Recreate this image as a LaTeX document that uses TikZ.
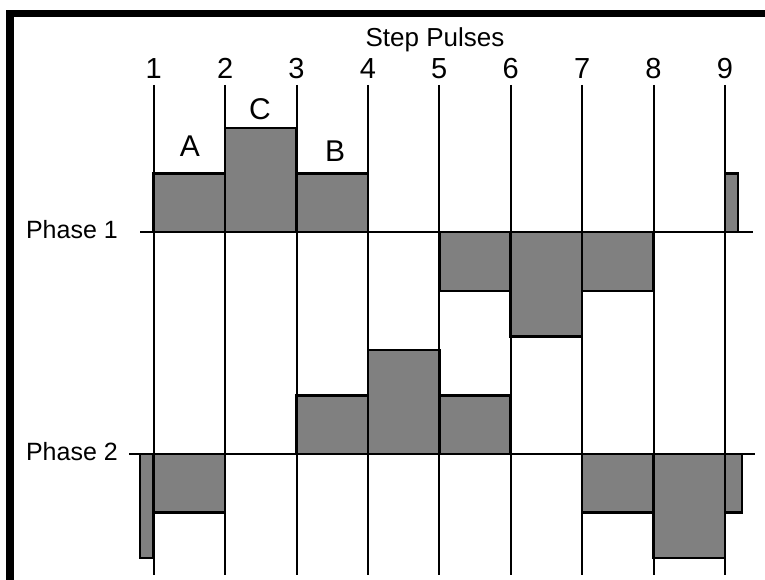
\documentclass[tikz,border=0pt]{standalone}
\usepackage{fontspec}
\setmainfont{Liberation Sans}
\usetikzlibrary{positioning}
\tikzset{
myPulse/.style={draw=black, line width=2pt}
, myAxis/.style={draw=black, line width=2pt}
, myBlock/.style={draw=black, fill=gray, line width=2.6pt}
, myNum/.style={font=\fontsize{29}{33}\selectfont, inner sep=0pt, anchor=base}
, myLetter/.style={font=\fontsize{30}{34}\selectfont, inner sep=0pt, anchor=base}
, myPhase/.style={font=\fontsize{25}{29}\selectfont, inner sep=0pt, anchor=base east}
}
\begin{document}
\begin{tikzpicture}[x=1pt,y=-1pt]
	\useasboundingbox (0,0) rectangle (765,580);
	% frame
	\fill (6,10) rectangle (765,17);
	\fill (6,10) rectangle (14,580);
	% title
	\node[myNum, font=\fontsize{26}{30}\selectfont] (Title) at (435,47) {Step Pulses};
	% levels
	\coordinate (OneUpB) at (0,128);
	\coordinate (OneUpA) at (0,173.5);
	\coordinate (OneAxis) at (0,232);
	\coordinate (OneDnA) at (0,291);
	\coordinate (OneDnB) at (0,336.5);
	\coordinate (TwoUpB) at (0,350);
	\coordinate (TwoUpA) at (0,395.5);
	\coordinate (TwoAxis) at (0,454);
	\coordinate (TwoDnA) at (0,512.5);
	\coordinate (TwoDnB) at (0,558);
	% pulses
	\foreach \i in {1,...,9}{
		\node[myNum] (N\i) at ({153.7+(\i-1)*71.4},78.5) {\i};
		\coordinate (T\i) at ({153.7+(\i-1)*71.4},85);
		\coordinate (B\i) at ({153.7+(\i-1)*71.4},575);
	}
	% phase 1
	\draw[myBlock] (T1 |- OneUpA) rectangle (T2 |- OneAxis);
	\draw[myBlock] (T2 |- OneUpB) rectangle (T3 |- OneAxis);
	\draw[myBlock] (T3 |- OneUpA) rectangle (T4 |- OneAxis);
	\draw[myBlock] (T5 |- OneAxis) rectangle (T6 |- OneDnA);
	\draw[myBlock] (T6 |- OneAxis) rectangle (T7 |- OneDnB);
	\draw[myBlock] (T7 |- OneAxis) rectangle (T8 |- OneDnA);
	\draw[myBlock] (T9 |- OneUpA) rectangle (738,232);
	% phase 2
	\draw[myBlock] (140,454) rectangle (T1 |- TwoDnB);
	\draw[myBlock] (T1 |- TwoAxis) rectangle (T2 |- TwoDnA);
	\draw[myBlock] (T3 |- TwoUpA) rectangle (T4 |- TwoAxis);
	\draw[myBlock] (T4 |- TwoUpB) rectangle (T5 |- TwoAxis);
	\draw[myBlock] (T5 |- TwoUpA) rectangle (T6 |- TwoAxis);
	\draw[myBlock] (T7 |- TwoAxis) rectangle (T8 |- TwoDnA);
	\draw[myBlock] (T8 |- TwoAxis) rectangle (T9 |- TwoDnB);
	\draw[myBlock] (T9 |- TwoAxis) rectangle (742,512.5);
	% axes
	\coordinate (OneStart) at (140,232);
	\coordinate (OneEnd) at (753,232);
	\coordinate (TwoStart) at (129,454);
	\coordinate (TwoEnd) at (755,454);
	\draw[myAxis] (OneStart) -- (OneEnd);
	\draw[myAxis] (TwoStart) -- (TwoEnd);
	\foreach \i in {1,...,9}{
		\draw[myPulse] (T\i) -- (B\i);
	}
	% labels
	\node[myPhase] (PhaseOne) at (118,238.5) {Phase 1};
	\node[myPhase] (PhaseTwo) at (118,460) {Phase 2};
	\node[myLetter] (LabA) at (190,157) {A};
	\node[myLetter] (LabC) at (260,120) {C};
	\node[myLetter] (LabB) at (335,162) {B};
\end{tikzpicture}
\end{document}
